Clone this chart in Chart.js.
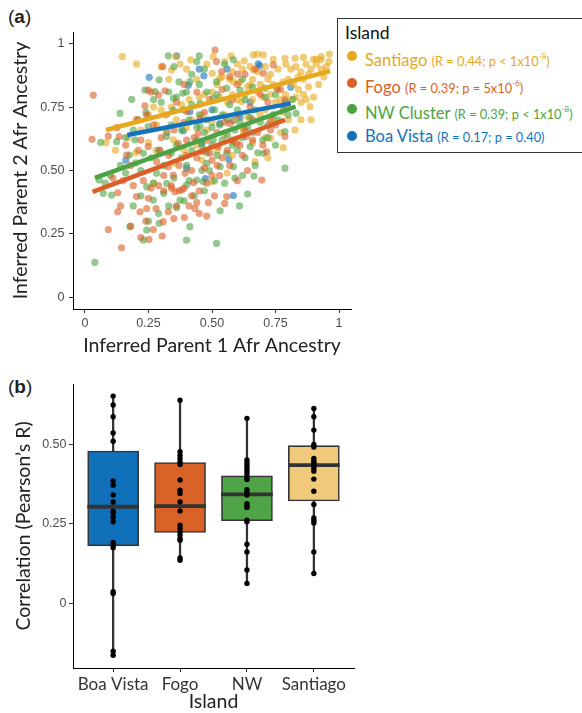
<!DOCTYPE html>
<html>
<head>
<meta charset="utf-8">
<script src="https://cdn.jsdelivr.net/npm/chart.js@4.4.1/dist/chart.umd.min.js"></script>
<style>
  body { margin: 0; width: 582px; height: 713px; overflow: hidden; position: relative; background: #fff; }
  .wrap { position: absolute; }
  .panel { position: absolute; font-family: "Liberation Sans", Arial, sans-serif; font-size: 19px; color: #222; }
  #legend { position: absolute; left: 337px; top: 18px; width: 262px; height: 135px; border: 1px solid #333;
            box-sizing: border-box; background: #fff; font-family: Lato, sans-serif; }
  #legend .lt { position: absolute; left: 7px; top: 3px; font-size: 17.5px; color: #111; }
  #legend .row { position: absolute; left: 7px; height: 20px; white-space: nowrap; }
  #legend .dot { position: absolute; left: 2px; top: 5px; width: 10px; height: 10px; border-radius: 50%; }
  #legend .txt { position: absolute; left: 20px; top: 0; font-size: 16.5px; line-height: 20px; }
  #legend .txt small { font-size: 12.8px; }
  #legend sup { font-size: 8px; vertical-align: 7px; }
</style>
</head>
<body>
<div class="panel" style="left:8px;top:6px">(<b>a</b>)</div>
<div class="panel" style="left:8px;top:376px">(<b>b</b>)</div>
<div class="wrap" style="left:0;top:0"><canvas id="scatter" width="360" height="360"></canvas></div>
<div class="wrap" style="left:0;top:370px"><canvas id="box" width="360" height="343"></canvas></div>
<div id="legend"><div class="lt">Island</div></div>
<script>
// ---- panel (a): parent ancestry, one [x, y] pair per couple ----
const santiagoPts = [[0.147,0.950],[0.203,0.920],[0.083,0.610],[0.358,0.950],[0.341,0.897],[0.374,0.920],[0.416,0.937],[0.505,0.950],[0.501,0.884],[0.575,0.953],[0.627,0.933],[0.663,0.957],[0.702,0.957],[0.741,0.939],[0.787,0.943],[0.827,0.943],[0.860,0.947],[0.899,0.939],[0.962,0.960],[0.928,0.937],
  [0.55,0.93],[0.60,0.92],[0.58,0.89],[0.62,0.90],[0.65,0.91],[0.68,0.89],[0.71,0.91],[0.73,0.88],[0.76,0.90],[0.79,0.92],[0.81,0.90],[0.83,0.91],[0.85,0.89],[0.87,0.92],[0.89,0.90],[0.91,0.92],[0.93,0.90],[0.95,0.91],[0.84,0.87],[0.86,0.86],[0.88,0.88],[0.80,0.86],[0.82,0.84],[0.78,0.85],[0.74,0.84],[0.76,0.82],[0.72,0.86],[0.69,0.84],[0.66,0.86],[0.64,0.83],[0.61,0.85],[0.57,0.86],[0.54,0.87],[0.52,0.84],
  [0.84,0.82],[0.86,0.80],[0.88,0.83],[0.90,0.79],[0.87,0.78],[0.85,0.77],[0.83,0.79],[0.81,0.78],[0.79,0.80],[0.77,0.78],[0.75,0.77],[0.73,0.80],[0.70,0.79],[0.68,0.81],[0.66,0.78],[0.63,0.80],[0.60,0.78],[0.58,0.80],[0.56,0.77],[0.53,0.79],[0.50,0.81],[0.47,0.80],[0.45,0.79],[0.41,0.78],[0.38,0.76],[0.34,0.75],[0.30,0.74],[0.27,0.75],
  [0.886,0.752],[0.827,0.660],[0.731,0.627],[0.669,0.535],[0.501,0.456],[0.269,0.449],[0.689,0.719],[0.617,0.772],[0.282,0.680],[0.348,0.621],[0.584,0.614],[0.623,0.653],[0.65,0.838],[0.584,0.851],[0.531,0.864],[0.663,0.897],
  [0.42,0.70],[0.46,0.72],[0.50,0.69],[0.55,0.72],[0.59,0.70],[0.64,0.71],[0.71,0.74],[0.74,0.70],[0.78,0.73],[0.80,0.70],[0.62,0.67],[0.55,0.64],[0.48,0.66],[0.40,0.67],[0.36,0.70],[0.44,0.60],[0.52,0.58],[0.58,0.56],[0.46,0.54],[0.39,0.58],[0.25,0.61],[0.20,0.57],[0.12,0.58],[0.77,0.65],[0.71,0.63],[0.66,0.61],[0.85,0.70],[0.92,0.84],[0.94,0.87],[0.96,0.93],[0.91,0.94],[0.93,0.95],
  [0.30,0.91],[0.40,0.90],[0.44,0.86],[0.48,0.92],[0.33,0.86],[0.25,0.72],[0.22,0.66],[0.32,0.65],[0.28,0.58],[0.17,0.63],[0.35,0.53],[0.56,0.49],[0.72,0.55],[0.78,0.59],[0.89,0.70],[0.68,0.96]];
const fogoPts = [[0.033,0.798],[0.028,0.623],[0.092,0.636],[0.092,0.267],[0.144,0.195],[0.129,0.337],[0.129,0.412],[0.135,0.634],[0.125,0.669],[0.164,0.561],[0.203,0.397],[0.217,0.337],[0.220,0.235],[0.252,0.228],[0.304,0.241],[0.269,0.267],[0.243,0.350],[0.308,0.298],[0.328,0.337],[0.354,0.416],[0.391,0.314],[0.433,0.350],[0.440,0.373],[0.479,0.320],[0.486,0.373],[0.381,0.423],[0.341,0.430],[0.427,0.452],[0.394,0.489],[0.328,0.515],[0.348,0.482],[0.282,0.535],[0.249,0.594],[0.295,0.581],[0.236,0.755],[0.249,0.818],[0.306,0.910],[0.289,0.798],[0.315,0.815],[0.512,0.976],[0.518,0.930],[0.538,0.891],[0.601,0.881],[0.741,0.917],[0.702,0.884],[0.755,0.825],[0.787,0.779],[0.787,0.634],[0.715,0.574],[0.696,0.462],[0.636,0.634],[0.597,0.607],[0.558,0.397],[0.571,0.686],[0.525,0.594],[0.492,0.568],[0.459,0.574],[0.446,0.647],[0.453,0.706],[0.400,0.733],[0.367,0.607],[0.203,0.702],[0.243,0.719],
  [0.11,0.47],[0.15,0.46],[0.18,0.52],[0.21,0.58],[0.23,0.46],[0.26,0.43],[0.29,0.44],[0.31,0.42],[0.34,0.44],[0.37,0.42],[0.36,0.36],[0.39,0.43],[0.42,0.40],[0.45,0.42],[0.48,0.45],[0.50,0.48],[0.52,0.52],[0.54,0.55],[0.56,0.58],[0.58,0.62],[0.61,0.60],[0.63,0.66],[0.66,0.62],[0.68,0.65],[0.70,0.60],[0.73,0.66],[0.75,0.68],[0.62,0.56],[0.57,0.52],[0.53,0.48],[0.50,0.54],[0.47,0.51],[0.44,0.55],[0.42,0.50],[0.40,0.56],[0.37,0.52],[0.33,0.56],[0.30,0.63],[0.27,0.68],[0.32,0.72],[0.35,0.66],[0.39,0.69],[0.43,0.63],[0.48,0.62],[0.52,0.65],[0.55,0.69],[0.60,0.72],[0.65,0.75],[0.69,0.80],[0.72,0.77],[0.77,0.82],[0.58,0.78],[0.49,0.78],[0.44,0.81],[0.39,0.84],[0.36,0.77],[0.26,0.81],[0.22,0.62],[0.16,0.60],[0.19,0.44],[0.24,0.30],[0.28,0.35],[0.35,0.31],[0.41,0.36],[0.45,0.33],[0.51,0.40],[0.55,0.37],[0.60,0.46],[0.64,0.50],[0.47,0.58],[0.40,0.62],[0.31,0.48],[0.25,0.39],[0.14,0.36],[0.18,0.28],[0.57,0.87],[0.60,0.84],[0.63,0.88],[0.67,0.90],[0.73,0.70],[0.79,0.75],[0.66,0.70],[0.54,0.82],[0.47,0.73]];
const nwPts = [[0.039,0.137],[0.062,0.611],[0.184,0.781],[0.236,0.818],[0.292,0.858],[0.276,0.812],[0.328,0.953],[0.450,0.953],[0.413,0.851],[0.385,0.805],[0.348,0.785],[0.348,0.739],[0.453,0.765],[0.518,0.851],[0.505,0.785],[0.558,0.825],[0.584,0.937],[0.610,0.818],[0.138,0.726],[0.125,0.614],[0.175,0.561],[0.105,0.403],[0.072,0.410],[0.056,0.462],[0.177,0.278],[0.230,0.225],[0.243,0.265],[0.292,0.291],[0.361,0.354],[0.413,0.278],[0.400,0.225],[0.518,0.212],[0.532,0.341],[0.608,0.360],[0.640,0.407],[0.665,0.478],[0.702,0.568],[0.787,0.509],[0.787,0.654],[0.831,0.726],[0.819,0.781],[0.709,0.825],[0.440,0.462],[0.282,0.489],[0.230,0.568],[0.197,0.621],[0.249,0.673],[0.322,0.634],[0.453,0.673],[0.505,0.621],[0.558,0.568],[0.584,0.515],[0.650,0.594],[0.532,0.515],[0.479,0.528],[0.466,0.456],[0.400,0.443],[0.374,0.383],[0.269,0.383],[0.243,0.436],[0.322,0.449],
  [0.08,0.45],[0.10,0.48],[0.14,0.52],[0.16,0.49],[0.20,0.53],[0.22,0.50],[0.26,0.55],[0.29,0.58],[0.31,0.52],[0.34,0.57],[0.36,0.60],[0.38,0.55],[0.40,0.52],[0.42,0.58],[0.44,0.62],[0.46,0.60],[0.48,0.57],[0.50,0.60],[0.52,0.56],[0.54,0.62],[0.56,0.64],[0.58,0.60],[0.60,0.58],[0.62,0.63],[0.64,0.67],[0.66,0.65],[0.68,0.57],[0.70,0.62],[0.72,0.68],[0.74,0.72],[0.76,0.70],[0.78,0.74],[0.67,0.74],[0.63,0.78],[0.60,0.74],[0.57,0.76],[0.54,0.72],[0.51,0.74],[0.48,0.70],[0.45,0.72],[0.42,0.76],[0.39,0.74],[0.36,0.79],[0.33,0.81],[0.30,0.77],[0.27,0.78],[0.24,0.73],[0.21,0.70],[0.19,0.66],[0.16,0.63],[0.34,0.68],[0.38,0.66],[0.41,0.70],[0.44,0.67],[0.47,0.65],[0.50,0.67],[0.53,0.68],[0.56,0.70],[0.59,0.66],[0.61,0.69],[0.65,0.71],[0.69,0.69],[0.72,0.63],[0.75,0.60],[0.63,0.55],[0.59,0.47],[0.55,0.45],[0.51,0.46],[0.47,0.42],[0.43,0.40],[0.39,0.38],[0.35,0.47],[0.31,0.41],[0.27,0.45],[0.22,0.40],[0.19,0.36],[0.25,0.30],[0.29,0.33],[0.33,0.36],[0.41,0.46],[0.46,0.50],[0.49,0.50],[0.62,0.48],[0.67,0.52],[0.45,0.84],[0.48,0.81],[0.52,0.80],[0.40,0.81],[0.37,0.85],[0.42,0.88],[0.47,0.90],[0.55,0.92],[0.62,0.86],[0.66,0.83],[0.71,0.79],[0.75,0.80],[0.79,0.77],[0.80,0.72],[0.35,0.91],[0.44,0.93]];
const boaVistaPts = [[0.361,0.953],[0.450,0.900],[0.468,0.874],[0.253,0.868],[0.682,0.921],[0.688,0.913],[0.810,0.829],[0.161,0.541],[0.322,0.651],[0.400,0.509],[0.474,0.468],[0.584,0.401],[0.566,0.544],[0.459,0.607],[0.584,0.697],[0.407,0.837],[0.413,0.732],[0.387,0.657],[0.531,0.686],[0.56,0.90],[0.65,0.77],[0.50,0.74],[0.61,0.71]];

// fitted lines, start and end
const santiagoFit = [[0.083,0.660],[0.965,0.893]];
const fogoFit = [[0.030,0.416],[0.787,0.700]];
const nwFit = [[0.039,0.471],[0.829,0.752]];
const boaVistaFit = [[0.167,0.640],[0.810,0.765]];

const ancTicks = [0, 0.25, 0.5, 0.75, 1];
const ancTickLabels = ['0', '0.25', '0.50', '0.75', '1'];

// legend text
const legendNames = ['Santiago', 'Fogo', 'NW Cluster', 'Boa Vista'];
const legendStats = ['(R = 0.44; p < 1x10<sup>-8</sup>)', '(R = 0.39; p = 5x10<sup>-6</sup>)',
                     '(R = 0.39; p < 1x10<sup>-8</sup>)', '(R = 0.17; p = 0.40)'];

// ---- panel (b): per-island correlation ----
const islands = ['Boa Vista', 'Fogo', 'NW', 'Santiago'];
const boxLow = [-0.163, 0.136, 0.063, 0.094];
const boxQ1 = [0.181, 0.223, 0.260, 0.322];
const boxMedian = [0.304, 0.306, 0.343, 0.435];
const boxQ3 = [0.479, 0.443, 0.401, 0.496];
const boxHigh = [0.652, 0.639, 0.582, 0.613];
const corrBoaVista = [0.652,0.624,0.587,0.536,0.510,0.385,0.372,0.341,0.319,0.290,0.283,0.270,0.257,0.192,0.183,0.175,0.037,0.031,-0.150,-0.163];
const corrFogo = [0.639,0.477,0.466,0.456,0.445,0.437,0.388,0.356,0.346,0.319,0.291,0.246,0.236,0.225,0.215,0.204,0.199,0.143,0.136];
const corrNW = [0.582,0.451,0.442,0.434,0.425,0.416,0.407,0.396,0.390,0.358,0.350,0.341,0.314,0.306,0.302,0.262,0.257,0.186,0.162,0.105,0.063];
const corrSantiago = [0.613,0.587,0.545,0.500,0.492,0.456,0.447,0.440,0.433,0.425,0.416,0.391,0.353,0.311,0.269,0.261,0.253,0.162,0.094];
const corrTicks = [0, 0.25, 0.5];
const corrTickLabels = ['0', '0.25', '0.50'];

const colGold = '230,168,30', colOrange = '217,95,38', colGreen = '76,163,68', colBlue = '20,114,186';
const boxFill = ['rgb(17,112,186)', 'rgb(217,98,40)', 'rgb(78,164,70)', 'rgb(240,201,122)'];

const tickFont = { family: 'Liberation Sans', size: 12.5 };
const titleFont = { family: 'Lato', size: 19.5 };

function axis(extra) {
  return Object.assign({
    border: { display: true, color: '#000', width: 1 },
    grid: { display: true, drawOnChartArea: false, drawTicks: true, tickLength: 4, color: '#333', offset: false },
  }, extra);
}

// legend box
const legend = document.getElementById('legend');
const legendCols = [colGold, colOrange, colGreen, colBlue];
legendNames.forEach((name, i) => {
  const row = document.createElement('div');
  row.className = 'row';
  row.style.top = (27 + i * 26.7) + 'px';
  row.innerHTML = '<div class="dot" style="background:rgb(' + legendCols[i] + ')"></div>' +
    '<div class="txt" style="color:rgb(' + legendCols[i] + ')">' + name + ' <small>' + legendStats[i] + '</small></div>';
  legend.appendChild(row);
});

function pts(list) { return list.map(p => ({ x: p[0], y: p[1] })); }
function dots(list, col) {
  return { data: pts(list), backgroundColor: 'rgba(' + col + ',0.6)', borderWidth: 0, pointRadius: 3.6, order: 2 };
}
function fit(list, col) {
  return { data: pts(list), showLine: true, borderColor: 'rgb(' + col + ')', borderWidth: 4.5,
           borderCapStyle: 'butt', pointRadius: 0, order: 1 };
}

new Chart(document.getElementById('scatter'), {
  type: 'scatter',
  data: {
    datasets: [
      dots(fogoPts, colOrange), dots(nwPts, colGreen), dots(santiagoPts, colGold), dots(boaVistaPts, colBlue),
      fit(fogoFit, colOrange), fit(nwFit, colGreen), fit(boaVistaFit, colBlue), fit(santiagoFit, colGold)
    ]
  },
  options: {
    responsive: false, animation: false,
    layout: { padding: { top: 32, right: 9, left: 0, bottom: 0 } },
    plugins: { legend: { display: false }, tooltip: { enabled: false } },
    scales: {
      x: axis({
        type: 'linear', min: -0.047, max: 1.047,
        afterBuildTicks: s => { s.ticks = ancTicks.map(v => ({ value: v })); },
        afterFit: s => { s.height = 51; },
        ticks: { font: tickFont, color: '#4d4d4d', padding: 3, maxRotation: 0,
                 callback: v => ancTickLabels[ancTicks.indexOf(v)] },
        title: { display: true, text: 'Inferred Parent 1 Afr Ancestry', font: titleFont, color: '#222',
                 padding: { top: 0, bottom: 3 } }
      }),
      y: axis({
        type: 'linear', min: -0.047, max: 1.047,
        afterBuildTicks: s => { s.ticks = ancTicks.map(v => ({ value: v })); },
        afterFit: s => { s.width = 73; },
        ticks: { font: tickFont, color: '#4d4d4d', padding: 4.5,
                 callback: v => ancTickLabels[ancTicks.indexOf(v)] },
        title: { display: true, text: 'Inferred Parent 2 Afr Ancestry', font: titleFont, color: '#222',
                 padding: { top: 9, bottom: 0 } }
      })
    }
  }
});

const idx = islands.map((c, i) => i + 1);
const corrLists = [corrBoaVista, corrFogo, corrNW, corrSantiago];
const corrPoints = [];
corrLists.forEach((list, i) => list.forEach(v => corrPoints.push({ x: idx[i], y: v })));

new Chart(document.getElementById('box'), {
  type: 'bar',
  data: {
    datasets: [
      { type: 'scatter', data: corrPoints, backgroundColor: '#000', borderWidth: 0, pointRadius: 2.7, order: 0 },
      { data: idx.map((x, i) => ({ x: x, y: [boxMedian[i] - 0.005, boxMedian[i] + 0.005] })),
        backgroundColor: '#333', borderWidth: 0, barThickness: 51, grouped: false, order: 1 },
      { data: idx.map((x, i) => ({ x: x, y: [boxQ1[i], boxQ3[i]] })),
        backgroundColor: boxFill, borderColor: '#333', borderWidth: 1.6, borderSkipped: false,
        barThickness: 51, grouped: false, order: 2 },
      { data: idx.map((x, i) => ({ x: x, y: [boxLow[i], boxHigh[i]] })),
        backgroundColor: '#333', borderWidth: 0, barThickness: 1.6, grouped: false, order: 3 }
    ]
  },
  options: {
    responsive: false, animation: false,
    layout: { padding: { top: 14, right: 6, left: 0, bottom: 0 } },
    plugins: { legend: { display: false }, tooltip: { enabled: false } },
    scales: {
      x: axis({
        type: 'linear', min: 0.4, max: 4.6, offset: false,
        afterBuildTicks: s => { s.ticks = idx.map(v => ({ value: v })); },
        afterFit: s => { s.height = 45; },
        ticks: { font: { family: 'Lato', size: 17 }, color: '#333', padding: 2, maxRotation: 0, autoSkip: false,
                 callback: v => islands[v - 1] },
        title: { display: true, text: 'Island', font: titleFont, color: '#222', padding: { top: 0, bottom: 0 } }
      }),
      y: axis({
        type: 'linear', min: -0.203, max: 0.69,
        afterBuildTicks: s => { s.ticks = corrTicks.map(v => ({ value: v })); },
        afterFit: s => { s.width = 73; },
        ticks: { font: tickFont, color: '#4d4d4d', padding: 2.5,
                 callback: v => corrTickLabels[corrTicks.indexOf(v)] },
        title: { display: true, text: 'Correlation (Pearson\u2019s R)', font: titleFont, color: '#222',
                 padding: { top: 12, bottom: 0 } }
      })
    }
  }
});
</script>
</body>
</html>
